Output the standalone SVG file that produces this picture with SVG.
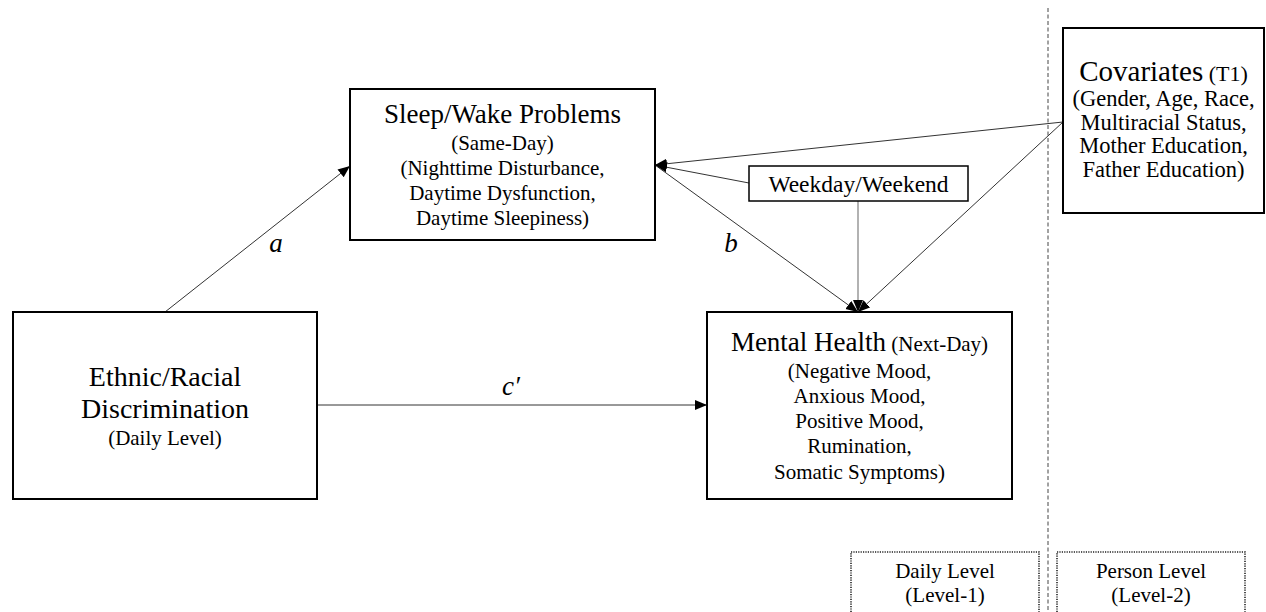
<svg xmlns="http://www.w3.org/2000/svg" width="1266" height="612" viewBox="0 0 1266 612">
<defs>
<marker id="arr" markerUnits="userSpaceOnUse" markerWidth="14" markerHeight="12" refX="12" refY="5" orient="auto">
<path d="M0,0 L12,5 L0,10 Z" fill="#000"/>
</marker>
<style>
.box{fill:#fff;stroke:#000;stroke-width:2}
.lvl{fill:#fff;stroke:#222;stroke-width:1.6;stroke-dasharray:1.2 1.2}
.t{font-family:"Liberation Serif","Times New Roman",serif;fill:#000;text-anchor:middle}
.big{font-size:27px}
.sm{font-size:21px}
.it{font-family:"Liberation Serif","Times New Roman",serif;font-style:italic;font-size:27px;fill:#000;text-anchor:middle}
.ln{stroke:#333;stroke-width:1;fill:none}
</style>
</defs>
<line x1="1048" y1="8" x2="1048" y2="612" stroke="#444" stroke-width="1" stroke-dasharray="4 2.5"/>
<g id="connectors">
<path class="ln" d="M165,312 L350,166" marker-end="url(#arr)"/>
<path class="ln" d="M317,405 L707,405" marker-end="url(#arr)"/>
<path class="ln" d="M655,165 L858,312" marker-end="url(#arr)"/>
<path class="ln" d="M1063,122 L655,165" marker-end="url(#arr)"/>
<path class="ln" d="M1063,122 L858,312" marker-end="url(#arr)"/>
<path class="ln" d="M749,183 L655,165" marker-end="url(#arr)"/>
<path d="M858,201 L858,312" stroke="#999" stroke-width="1.5" fill="none" marker-end="url(#arr)"/>
<text class="it" x="276" y="252">a</text>
<text class="it" x="731" y="252">b</text>
<text class="it" x="511" y="395">c′</text>
</g>
<g id="sleep">
<rect class="box" x="350" y="89" width="305" height="151"/>
<text class="t big" x="502.5" y="123">Sleep/Wake Problems</text>
<text class="t sm" x="502.5" y="150">(Same-Day)</text>
<text class="t sm" x="502.5" y="175">(Nighttime Disturbance,</text>
<text class="t sm" x="502.5" y="200">Daytime Dysfunction,</text>
<text class="t sm" x="502.5" y="225">Daytime Sleepiness)</text>
</g>
<g id="weekday">
<rect x="749" y="166" width="219" height="35" fill="#fff" stroke="#000" stroke-width="1.5"/>
<text class="t" style="font-size:23.5px" x="858.5" y="192">Weekday/Weekend</text>
</g>
<g id="covariates">
<rect class="box" x="1063" y="28" width="201" height="185"/>
<text class="t" x="1163.5" y="81"><tspan style="font-size:29px">Covariates</tspan><tspan style="font-size:22px"> (T1)</tspan></text>
<text class="t" style="font-size:22.5px" x="1163.5" y="106">(Gender, Age, Race,</text>
<text class="t" style="font-size:22.5px" x="1163.5" y="130">Multiracial Status,</text>
<text class="t" style="font-size:22.5px" x="1163.5" y="153">Mother Education,</text>
<text class="t" style="font-size:22.5px" x="1163.5" y="177">Father Education)</text>
</g>
<g id="ethnic">
<rect class="box" x="13" y="312" width="304" height="187"/>
<text class="t" style="font-size:28px" x="165" y="386">Ethnic/Racial</text>
<text class="t" style="font-size:28px" x="165" y="418">Discrimination</text>
<text class="t sm" x="165" y="445">(Daily Level)</text>
</g>
<g id="mental">
<rect class="box" x="707" y="312" width="305" height="187"/>
<text class="t" x="859.5" y="351"><tspan class="big">Mental Health</tspan><tspan class="sm"> (Next-Day)</tspan></text>
<text class="t sm" x="859.5" y="378">(Negative Mood,</text>
<text class="t sm" x="859.5" y="403">Anxious Mood,</text>
<text class="t sm" x="859.5" y="428">Positive Mood,</text>
<text class="t sm" x="859.5" y="453">Rumination,</text>
<text class="t sm" x="859.5" y="479">Somatic Symptoms)</text>
</g>
<g id="daily-level">
<rect class="lvl" x="851" y="552" width="188" height="70"/>
<text class="t sm" x="945" y="578">Daily Level</text>
<text class="t sm" x="945" y="602">(Level-1)</text>
</g>
<g id="person-level">
<rect class="lvl" x="1057" y="552" width="188" height="70"/>
<text class="t sm" x="1151" y="578">Person Level</text>
<text class="t sm" x="1151" y="602">(Level-2)</text>
</g>
</svg>
